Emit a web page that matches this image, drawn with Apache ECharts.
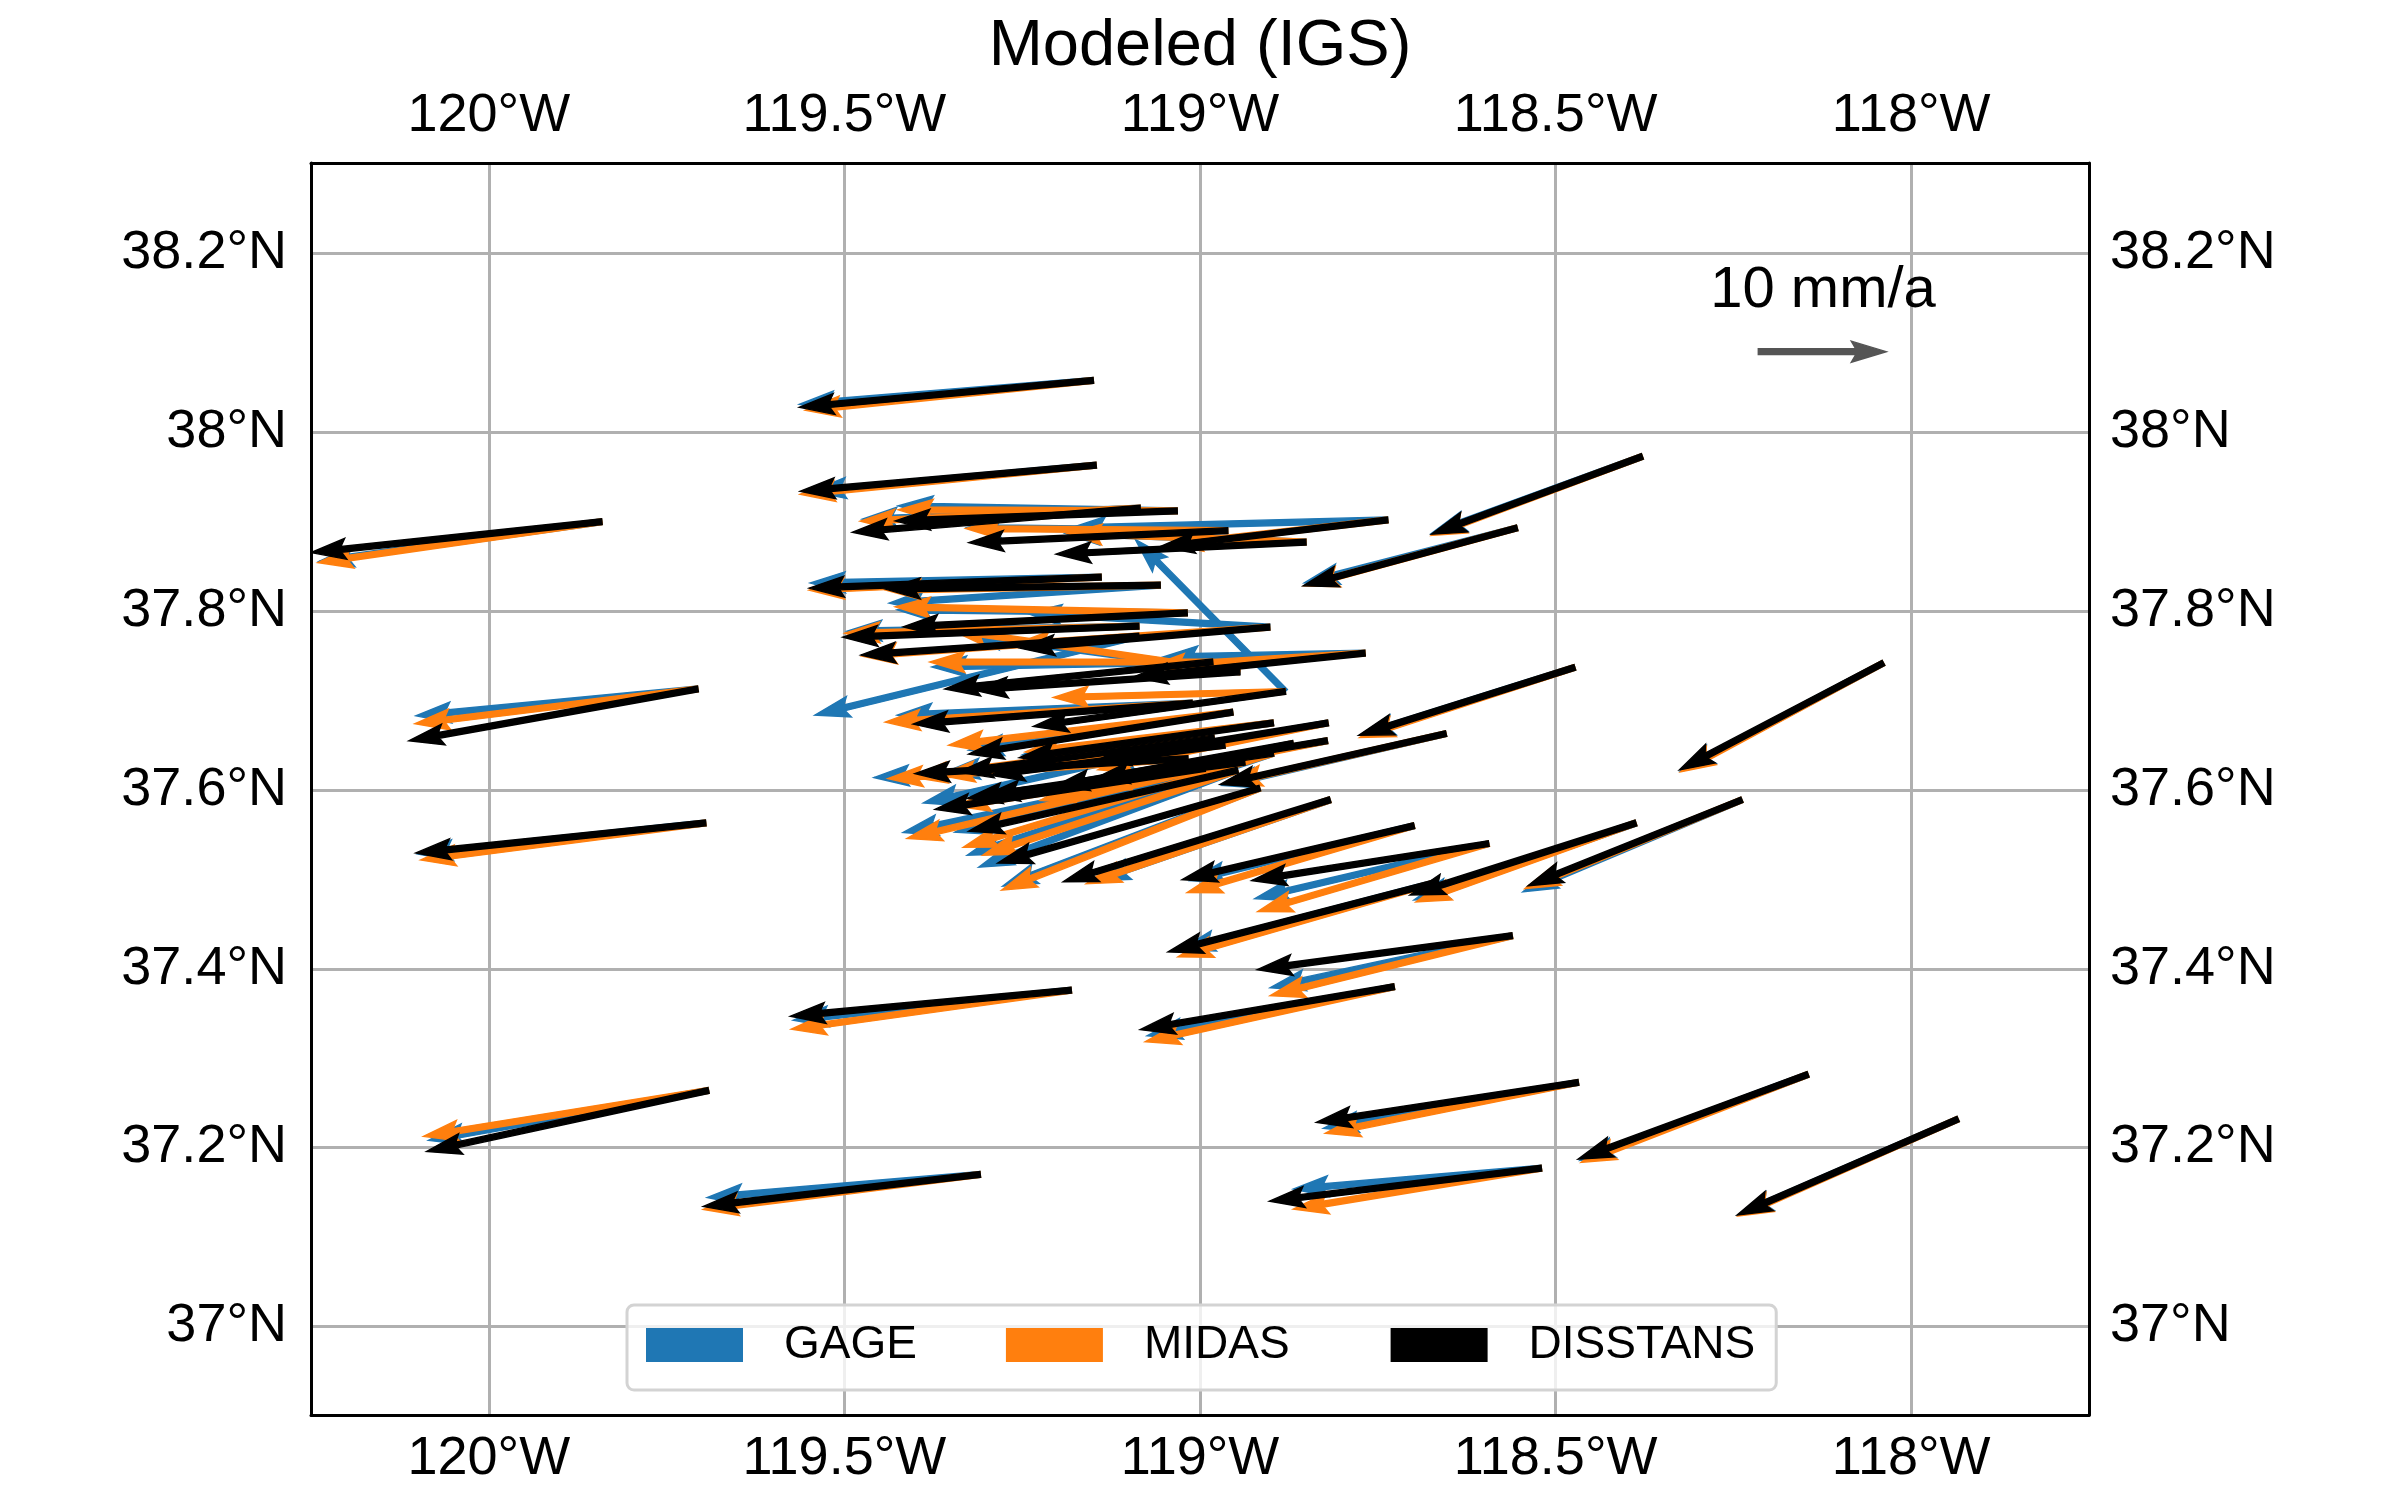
<!DOCTYPE html>
<html>
<head>
<meta charset="utf-8">
<style>html,body{margin:0;padding:0;background:#fff}#chart{width:2400px;height:1500px}</style>
<script src="https://cdn.jsdelivr.net/npm/echarts@6/dist/echarts.min.js"></script>
</head>
<body>
<div id="chart"></div>
<script>
// Station positions, degrees [lon, lat]
const stations = [
[-119.150,38.058],[-119.146,37.963],[-119.841,37.900],[-119.032,37.912],[-119.084,37.915],[-118.961,37.890],[-118.736,37.902],[-118.851,37.877],
[-118.880,37.710],[-119.139,37.838],[-119.056,37.829],[-119.018,37.798],[-119.086,37.783],[-118.902,37.782],[-119.086,37.772],[-118.768,37.753],
[-118.982,37.743],[-118.944,37.732],[-119.011,37.697],[-118.954,37.687],[-118.897,37.675],[-118.820,37.675],[-118.821,37.655],[-118.869,37.652],
[-118.980,37.658],[-119.017,37.635],[-118.965,37.650],[-118.897,37.641],[-118.937,37.631],[-118.993,37.624],[-118.947,37.622],[-118.916,37.602],
[-118.817,37.589],[-118.378,37.973],[-118.554,37.893],[-118.039,37.742],[-118.473,37.737],[-119.706,37.713],[-119.695,37.563],[-118.654,37.663],
[-118.238,37.589],[-118.387,37.563],[-118.594,37.540],[-118.699,37.560],[-118.561,37.437],[-118.671,37.496],[-118.727,37.380],[-119.181,37.376],
[-119.691,37.264],[-119.309,37.170],[-118.520,37.177],[-118.468,37.273],[-118.145,37.282],[-117.934,37.232]
];
// Velocities, mm/a [east, north]
const gage = [
[-22.97,-1.88],[-22.27,-2.03],[-22.1,-3.1],[-21.8,0.39],[-21.72,-0.86],[-20.39,0.23],[-24.77,-0.63],[-18.83,0.7],
[-11.72,11.88],[-22.73,-0.47],[-21.17,-1.41],[-22.66,0.23],[-22.81,-0.39],[-18.98,1.09],[-25.31,-6.17],[-15.78,-0.31],
[-21.95,-0.39],[-21.41,2.89],[-23.05,-0.94],[-20.63,-2.97],[-19.61,-2.5],[-17.97,-3.28],[-17.89,-3.28],[-19.38,-4.06],
[-22.73,-5.08],[-24.53,-1.48],[-21.88,-2.11],[-23.91,-7.97],[-22.66,-5.47],[-23.59,-5.0],[-20.23,-7.58],[-20.08,-7.66],
[-18.36,-6.33],[-16.48,-6.02],[-16.64,-4.3],[-15.86,-8.44],[-16.8,-5.31],[-22.03,-2.11],[-22.5,-2.42],[-17.5,-4.06],
[-17.11,-7.19],[-17.34,-6.02],[-18.28,-4.3],[-17.5,-4.3],[-18.91,-4.06],[-19.84,-5.23],[-19.3,-3.83],[-21.72,-2.34],
[-21.88,-3.91],[-21.33,-1.8],[-19.38,-1.64],[-19.92,-3.59],[-17.81,-6.72],[-17.19,-7.5]
];
const midas = [
[-22.5,-2.34],[-23.13,-2.27],[-22.19,-3.2],[-21.8,0.08],[-21.88,-1.02],[-20.47,0.16],[-17.19,-1.95],[-18.67,0.7],
[-18.13,-0.47],[-22.81,-1.02],[-21.41,-0.39],[-22.81,0.47],[-22.97,-0.55],[-19.92,-1.33],[-21.64,-1.56],[-16.8,-1.02],
[-22.11,0],[-22.58,3.28],[-23.98,-1.48],[-22.19,-2.58],[-19.38,-2.27],[-17.97,-3.67],[-18.05,-3.59],[-19.77,-4.45],
[-23.59,-3.05],[-23.44,-1.56],[-22.27,-2.34],[-24.22,-7.34],[-22.58,-3.44],[-23.28,-5.47],[-19.92,-6.64],[-20.16,-7.97],
[-19.06,-6.56],[-16.48,-6.17],[-16.64,-4.53],[-15.86,-8.52],[-16.8,-5.47],[-22.11,-2.73],[-22.27,-2.89],[-17.11,-3.91],
[-16.95,-6.95],[-17.19,-6.17],[-18.05,-5.31],[-17.73,-5.23],[-18.91,-4.69],[-20.0,-5.78],[-19.45,-4.3],[-21.88,-3.05],
[-22.27,-3.59],[-21.64,-2.73],[-19.38,-3.2],[-19.77,-3.98],[-17.73,-6.88],[-17.19,-7.58]
];
const disstans = [
[-22.97,-2.11],[-23.13,-2.03],[-22.73,-2.42],[-22.03,-0.78],[-22.5,-1.88],[-20.23,-0.94],[-17.81,-2.11],[-19.53,-0.94],
[-19.69,-2.73],[-22.81,-0.86],[-21.48,-0.31],[-22.19,-1.09],[-23.13,-0.86],[-19.53,-1.64],[-21.72,-1.48],[-18.13,-1.88],
[-20.94,-2.11],[-20.86,-1.41],[-21.8,-1.64],[-20.63,-3.28],[-19.84,-2.73],[-18.13,-2.97],[-18.2,-2.97],[-18.67,-3.36],
[-20.0,-2.66],[-21.33,-1.17],[-18.36,-2.34],[-23.91,-3.52],[-20.31,-2.58],[-21.09,-3.2],[-21.02,-4.77],[-20.47,-5.86],
[-20.86,-6.41],[-16.48,-6.09],[-16.72,-4.53],[-15.94,-8.36],[-16.88,-5.31],[-22.58,-4.06],[-22.66,-2.34],[-17.66,-3.98],
[-16.72,-6.72],[-17.66,-5.63],[-18.52,-2.89],[-18.13,-4.22],[-19.92,-2.66],[-20.78,-5.39],[-19.84,-3.36],[-21.95,-2.03],
[-22.03,-4.77],[-21.64,-2.5],[-21.25,-2.58],[-20.47,-3.13],[-17.97,-6.64],[-17.27,-7.5]
];
const seriesNames = ['GAGE','MIDAS','DISSTANS'];
const seriesColors = ['#1f77b4','#ff7f0e','#000000'];
const lonTicks = [-120,-119.5,-119,-118.5,-118];
const latTicks = [37,37.2,37.4,37.6,37.8,38,38.2];
const keyVector = [[-118.215,38.090,10,0]];
const keyLabelPlace = [[-118.124,38.158]];
const keyLabel = '10 mm/a';
const chartTitle = 'Modeled (IGS)';

const PX_PER_MM = 12.8, SHAFT = 2.9, HEAD_HALF = 10.5, HEAD_LEN = 35, HEAD_AXIS = 30.5, EDGE = 1.4;
const FONT = '"Liberation Sans"';

function arrowItem(color) {
  return function (params, api) {
    const p = api.coord([api.value(0), api.value(1)]);
    const dx = api.value(2) * PX_PER_MM, dy = -api.value(3) * PX_PER_MM;
    const L = Math.hypot(dx, dy), ux = dx / L, uy = dy / L;
    const P = (a, b) => [p[0] + ux * a - uy * b, p[1] + uy * a + ux * b];
    return {
      type: 'polygon',
      shape: { points: [P(0, -SHAFT), P(L - HEAD_AXIS, -SHAFT), P(L - HEAD_LEN, -HEAD_HALF), P(L, 0),
                        P(L - HEAD_LEN, HEAD_HALF), P(L - HEAD_AXIS, SHAFT), P(0, SHAFT)] },
      style: { fill: color, stroke: color, lineWidth: EDGE, lineJoin: 'miter', miterLimit: 8 }
    };
  };
}

const velocity = [gage, midas, disstans];
const arrowSeries = seriesNames.map((name, i) => ({
  type: 'custom', name, clip: true, animation: false, silent: true,
  xAxisIndex: 0, yAxisIndex: 0,
  itemStyle: { color: seriesColors[i] },
  encode: { x: 0, y: 1 },
  data: stations.map((s, k) => [s[0], s[1], velocity[i][k][0], velocity[i][k][1]]),
  renderItem: arrowItem(seriesColors[i]),
  z: 3 + i
}));

const gridLine = { show: true, lineStyle: { color: '#b0b0b0', width: 3 } };
const frame = { show: true, onZero: false, lineStyle: { color: '#000', width: 3 } };
const lonFmt = v => Math.abs(v) + '°W';
const latFmt = v => v + '°N';
const labelBase = { fontFamily: FONT, fontSize: 54, color: '#000' };

function xAxis(position, split, margin) {
  return { type: 'value', position, min: -120.25, max: -117.75, axisLine: frame,
    axisTick: { show: false, customValues: lonTicks },
    axisLabel: Object.assign({ customValues: lonTicks, formatter: lonFmt, margin, showMinLabel: true, showMaxLabel: true }, labelBase),
    splitLine: split ? gridLine : { show: false } };
}
function yAxis(position, split, margin) {
  return { type: 'value', position, min: 36.901, max: 38.301, axisLine: frame,
    axisTick: { show: false, customValues: latTicks },
    axisLabel: Object.assign({ customValues: latTicks, formatter: latFmt, margin, padding: [0, 0, 4, 0], showMinLabel: true, showMaxLabel: true }, labelBase),
    splitLine: split ? gridLine : { show: false } };
}

const option = {
  backgroundColor: '#fff',
  animation: false,
  title: { text: chartTitle, left: 'center', top: 10,
    textStyle: { fontFamily: FONT, fontSize: 65, fontWeight: 'normal', color: '#000' } },
  grid: { left: 311, top: 163, width: 1778, height: 1252, containLabel: false },
  xAxis: [xAxis('bottom', true, 17), xAxis('top', false, 20)],
  yAxis: [yAxis('left', true, 24), yAxis('right', false, 21)],
  legend: {
    data: [
      { name: 'GAGE', textStyle: { padding: [0, 0, 0, 36] } },
      { name: 'MIDAS', textStyle: { padding: [0, 12, 0, 36] } },
      { name: 'DISSTANS', textStyle: { padding: [0, 0, 0, 36] } }
    ],
    left: 627, top: 1305, orient: 'horizontal', icon: 'rect',
    itemWidth: 97, itemHeight: 34, itemGap: 89,
    padding: [17, 21, 22, 19],
    backgroundColor: 'rgba(255,255,255,0.8)', borderColor: '#d3d3d3', borderWidth: 3, borderRadius: 7,
    textStyle: { fontFamily: FONT, fontSize: 46, color: '#000', padding: [0, 0, 0, 36], lineHeight: 34 } },
  series: arrowSeries.concat([
    { type: 'custom', name: 'key', clip: false, animation: false, silent: true, z: 6,
      encode: { x: 0, y: 1 }, data: keyVector, renderItem: arrowItem('#555555') },
    { type: 'custom', name: 'keyLabel', clip: false, animation: false, silent: true, z: 6,
      encode: { x: 0, y: 1 }, data: keyLabelPlace,
      renderItem: (params, api) => {
        const p = api.coord([api.value(0), api.value(1)]);
        return { type: 'text', style: { x: p[0], y: p[1], text: keyLabel, align: 'center', verticalAlign: 'middle',
          fontFamily: FONT, fontSize: 58, fill: '#000' } };
      } }
  ])
};
const chart = echarts.init(document.getElementById('chart'), null, { renderer: 'canvas' });
chart.setOption(option);
</script>
</body>
</html>
